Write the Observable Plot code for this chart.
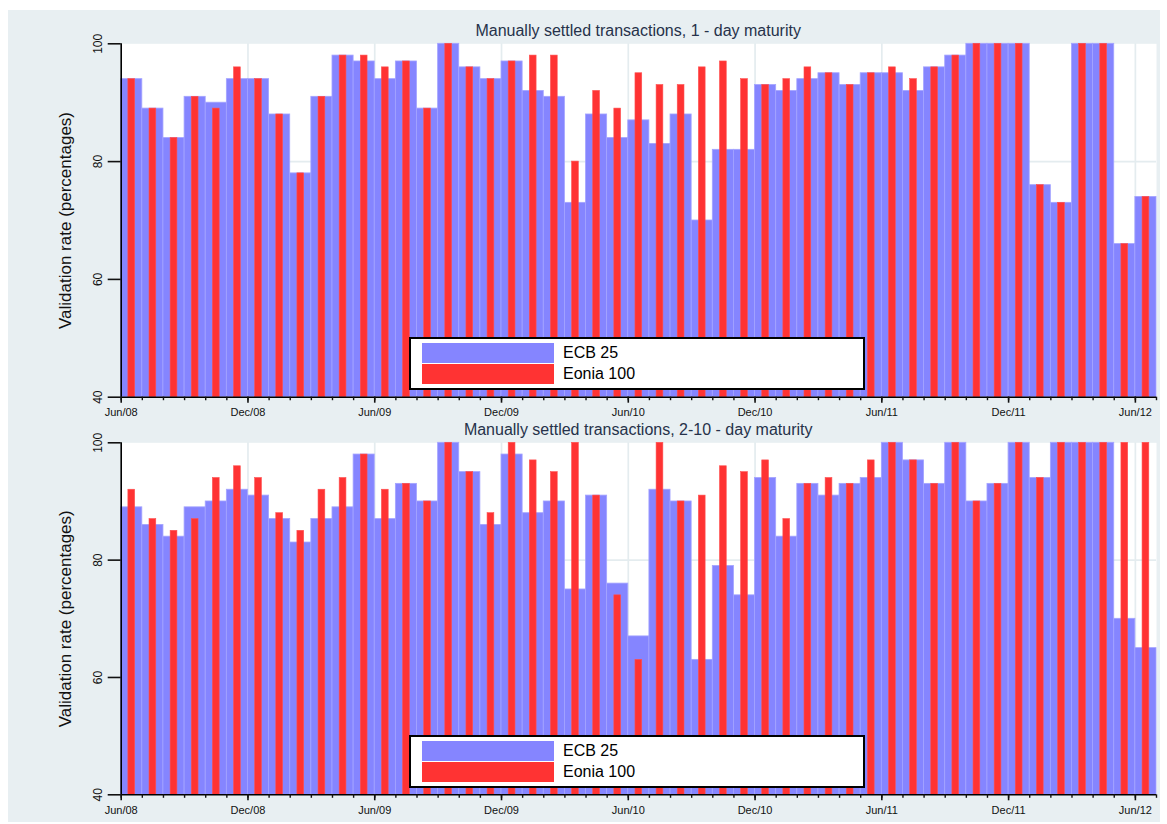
<!DOCTYPE html>
<html>
<head>
<meta charset="utf-8">
<script src="https://cdn.jsdelivr.net/npm/d3@7"></script>
<script src="https://cdn.jsdelivr.net/npm/@observablehq/plot@0.6"></script>
<style>
  html, body { margin: 0; padding: 0; background: #ffffff; }
  body { width: 1167px; height: 824px; position: relative; overflow: hidden;
         font-family: "Liberation Sans", Arial, sans-serif; }
  #bg { position: absolute; left: 8px; top: 10px; width: 1152px; height: 812px; background: #e8eff2; }
  .title { position: absolute; left: 120.7px; width: 1035px; text-align: center;
           font-size: 16px; line-height: 20px; color: #26324a; white-space: nowrap; }
  .panel { position: absolute; left: 0; }
  .legend { position: absolute; left: 409px; width: 452px; height: 49px; background: #ffffff;
            border: 2px solid #000000; }
  .sw { position: absolute; left: 11px; width: 132px; height: 20px; }
  .lt { position: absolute; left: 152px; font-size: 16px; line-height: 20px; color: #000; }
</style>
</head>
<body>
<div id="bg"></div>
<div class="panel" id="p1" style="top:28px"></div>
<div class="panel" id="p2" style="top:427px"></div>
<div class="title" style="top:21px">Manually settled transactions, 1 - day maturity</div>
<div class="title" style="top:420px">Manually settled transactions, 2-10 - day maturity</div>
<div class="legend" style="top:337px">
  <div class="sw" style="top:4px;background:#8585ff"></div><div class="lt" style="top:4px">ECB 25</div>
  <div class="sw" style="top:25px;background:#ff3333"></div><div class="lt" style="top:25px">Eonia 100</div>
</div>
<div class="legend" style="top:735px">
  <div class="sw" style="top:4px;background:#8585ff"></div><div class="lt" style="top:4px">ECB 25</div>
  <div class="sw" style="top:25px;background:#ff3333"></div><div class="lt" style="top:25px">Eonia 100</div>
</div>
<script>
// Months Jun/08 ... Jun/12 (49 monthly observations), index 0..48
const majorTickLabels = ["Jun/08","Dec/08","Jun/09","Dec/09","Jun/10","Dec/10","Jun/11","Dec/11","Jun/12"];
const yTicks = [40, 60, 80, 100];
const yLabel = "Validation rate (percentages)";

// Panel 1: 1-day maturity
const ecb1 =   [94,89,84,91,90,94,94,88,78,91, 98,97,94,97,89,100,96,94,97,92, 91,73,88,84,87,83,88,70,82,82, 93,92,94,95,93,95,95,92,96,98, 100,100,100,76,73,100,100,66,74];
const eonia1 = [94,89,84,91,89,96,94,88,78,91, 98,98,96,97,89,100,96,94,97,98, 98,80,92,89,95,93,93,96,97,94, 93,94,96,95,93,95,96,94,96,98, 100,100,100,76,73,100,100,66,74];

// Panel 2: 2-10 day maturity
const ecb2 =   [89,86,84,89,90,92,91,87,83,87, 89,98,87,93,90,100,95,86,98,88, 90,75,91,76,67,92,90,63,79,74, 94,84,93,91,93,94,100,97,93,100, 90,93,100,94,100,100,100,70,65];
const eonia2 = [92,87,85,87,94,96,94,88,85,92, 94,98,92,93,90,100,95,88,100,97, 95,100,91,74,63,100,90,91,96,95, 97,87,93,94,93,97,100,97,93,100, 90,93,100,94,100,100,100,100,100];

const yBase = yTicks[0];
const nMonths = ecb1.length;
const majorIdx = majorTickLabels.map((_, k) => k * 6);
const allIdx = d3.range(nMonths + 1);

function panel(ecb, eonia, mTop, plotH, mBottom) {
  const data = ecb.map((v, i) => ({i, ecb: v, eonia: eonia[i]}));
  return Plot.plot({
    width: 1167,
    height: mTop + plotH + mBottom,
    marginLeft: 120.7,
    marginRight: 11,
    marginTop: mTop,
    marginBottom: mBottom,
    style: {background: "transparent", fontFamily: "'Liberation Sans', Arial, sans-serif", color: "#111"},
    x: {domain: [0, nMonths]},
    y: {domain: [yTicks[0], yTicks[yTicks.length - 1]]},
    marks: [
      Plot.frame({fill: "#ffffff", stroke: null}),
      Plot.gridY([60, 80], {stroke: "#e4ecef", strokeOpacity: 1, strokeWidth: 1.7}),
      Plot.gridX(majorIdx, {stroke: "#e4ecef", strokeOpacity: 1, strokeWidth: 1.7}),
      Plot.rect(data, {x1: "i", x2: d => d.i + 1, y1: () => yBase, y2: "ecb",
                       fill: "#8585ff", stroke: "#a4a4ff", strokeWidth: 0.8}),
      Plot.rect(data, {x1: d => d.i + 0.34, x2: d => d.i + 0.66, y1: () => yBase, y2: "eonia",
                       fill: "#ff3333", stroke: "#ff5050", strokeWidth: 0.6}),
      Plot.ruleX([0], {stroke: "#000", strokeWidth: 1.6}),
      Plot.ruleY([yBase], {stroke: "#000", strokeWidth: 1.6}),
      Plot.axisY(yTicks, {tickSize: 13, tickRotate: -90, tickPadding: 6, fontSize: 12,
                          strokeWidth: 1.6, label: null}),
      Plot.text([yLabel], {frameAnchor: "left", rotate: -90, dx: -55.7, fontSize: 17,
                           fill: "#111", textAnchor: "middle"}),
      Plot.axisX(allIdx, {tickSize: 3.5, text: null, strokeWidth: 1.4, label: null}),
      Plot.axisX(majorIdx, {tickSize: 6, tickPadding: 5, fontSize: 11, strokeWidth: 1.6,
                            tickFormat: i => majorTickLabels[i / 6], label: null})
    ]
  });
}

document.getElementById("p1").append(panel(ecb1, eonia1, 15.3, 353.4, 24.3));
document.getElementById("p2").append(panel(ecb2, eonia2, 15.3, 352, 24.7));
</script>
</body>
</html>
